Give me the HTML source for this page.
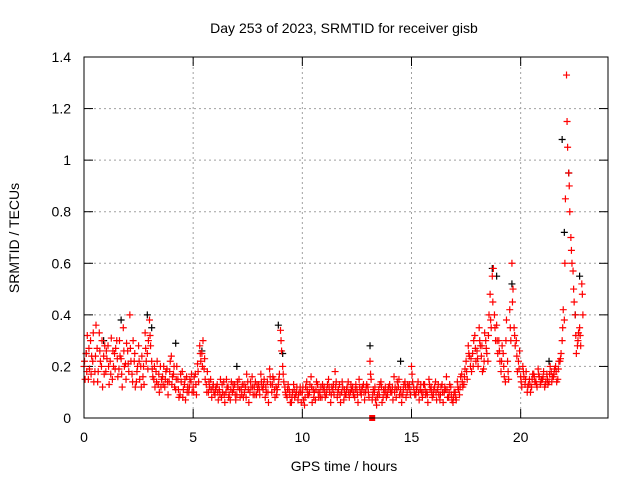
<!DOCTYPE html>
<html><head><meta charset="utf-8"><style>
html,body{margin:0;padding:0;background:#fff;}
svg{display:block;font-family:"Liberation Sans",sans-serif;}
</style></head><body>
<svg id="chart" width="640" height="480" viewBox="0 0 640 480">
<rect x="0" y="0" width="640" height="480" fill="#fff"/>
<text x="344" y="33" font-size="14" text-anchor="middle">Day 253 of 2023, SRMTID for receiver gisb</text>
<g id="grid"></g>
<g id="ticks"></g>
<g id="marks"></g>
<rect x="84" y="57" width="524" height="361" fill="none" stroke="#000" stroke-width="1"/>
<text x="344" y="471" font-size="14" text-anchor="middle">GPS time / hours</text>
<text transform="translate(19,238) rotate(-90)" font-size="14" text-anchor="middle">SRMTID / TECUs</text>
</svg>
<script>
const xTicks=[0,5,10,15,20];
const yTicks=[0,0.2,0.4,0.6,0.8,1,1.2,1.4];
const yTickLabels=["0","0.2","0.4","0.6","0.8","1","1.2","1.4"];
const tStart=0, tStep=0.1;
const valsA=[.20,.25,.15,.30,.22,.18,.27,.33,.20,.24,
.18,.28,.22,.15,.25,.30,.19,.23,.35,.21,
.26,.40,.17,.22,.14,.28,.20,.16,.33,.25,
.38,.22,.15,.18,.13,.20,.16,.12,.19,.14,
.24,.17,.11,.15,.09,.18,.13,.16,.10,.14,
.12,.17,.21,.28,.25,.19,.13,.10,.15,.12,
.09,.13,.11,.08,.14,.10,.12,.07,.10,.13,
.09,.15,.11,.08,.12,.14,.10,.16,.12,.09,
.13,.17,.11,.08,.14,.19,.10,.15,.12,.13,
.34,.20,.12,.08,.11,.06,.13,.09,.07,.12,
.10,.05,.14,.09,.16,.11,.07,.13,.10,.08,
.12,.09,.15,.06,.11,.18,.08,.13,.10,.07,
.09,.14,.10,.12,.08,.11,.15,.09,.13,.10,
.12,.22,.07,.10,.05,.11,.14,.08,.12,.09,
.13,.10,.16,.08,.12,.11,.09,.14,.10,.13,
.20,.12,.09,.14,.11,.08,.13,.10,.15,.12,
.09,.14,.11,.07,.13,.10,.16,.08,.12,.06,
.10,.14,.09,.17,.13,.22,.28,.20,.25,.32,
.26,.35,.24,.19,.30,.22,.48,.55,.40,.36,
.30,.18,.25,.14,.22,.42,.60,.35,.30,.22,
.16,.20,.13,.10,.15,.12,.17,.14,.19,.13,
.15,.12,.17,.14,.18,.16,.20,.15,.22,.30,
.38,1.33,.95,.70,.57,.40,.28,.35,.52];
const valsB=[.15,.32,.19,.24,.14,.36,.18,.22,.12,.28,
.23,.13,.31,.20,.27,.16,.24,.12,.20,.29,
.18,.22,.30,.12,.20,.15,.24,.13,.22,.30,
.28,.16,.12,.22,.10,.15,.20,.18,.09,.22,
.16,.12,.20,.08,.14,.11,.07,.12,.15,.10,
.16,.09,.14,.22,.30,.15,.18,.12,.08,.10,
.12,.07,.15,.10,.06,.12,.09,.14,.11,.07,
.12,.08,.13,.10,.17,.06,.12,.09,.14,.11,
.09,.12,.15,.10,.06,.13,.16,.08,.11,.17,
.26,.14,.09,.13,.06,.10,.08,.12,.10,.06,
.07,.12,.09,.13,.06,.10,.14,.08,.12,.11,
.08,.13,.10,.12,.09,.14,.11,.06,.12,.09,
.12,.08,.11,.09,.13,.06,.10,.12,.07,.13,
.08,.15,.11,.07,.09,.13,.06,.10,.08,.12,
.10,.07,.12,.14,.09,.06,.13,.08,.12,.09,
.14,.09,.12,.07,.10,.13,.09,.06,.11,.08,
.12,.07,.09,.12,.06,.11,.08,.13,.07,.10,
.07,.11,.16,.12,.19,.15,.24,.18,.30,.22,
.20,.28,.18,.33,.25,.40,.35,.58,.30,.25,
.22,.28,.16,.38,.15,.30,.50,.28,.18,.26,
.12,.16,.18,.13,.10,.17,.14,.12,.16,.15,
.18,.14,.13,.20,.16,.19,.14,.22,.25,.42,
.85,1.05,.80,.60,.45,.25,.33,.28,.40];
const valsC=[.22,.18,.27,.17,.33,.24,.14,.26,.30,.17,
.26,.20,.17,.26,.19,.23,.30,.17,.26,.15,
.21,.27,.14,.25,.18,.22,.12,.20,.27,.19,
.32,.19,.20,.14,.17,.12,.13,.15,.14,.18,
.13,.20,.15,.11,.17,.08,.15,.10,.12,.17,
.10,.13,.18,.25,.20,.23,.10,.14,.11,.13,
.11,.10,.09,.13,.09,.15,.08,.11,.13,.09,
.14,.11,.09,.13,.08,.11,.14,.12,.09,.13,
.11,.14,.13,.12,.10,.16,.13,.11,.09,.15,
.30,.17,.10,.11,.09,.08,.11,.10,.09,.10,
.12,.08,.11,.10,.12,.08,.11,.10,.08,.13,
.10,.11,.12,.09,.13,.12,.10,.09,.14,.11,
.11,.10,.13,.10,.11,.09,.12,.11,.10,.12,
.10,.17,.09,.12,.08,.09,.12,.11,.10,.11,
.11,.12,.10,.11,.15,.09,.11,.12,.13,.11,
.17,.10,.11,.10,.13,.10,.11,.09,.13,.10,
.11,.10,.13,.09,.10,.12,.11,.10,.09,.08,
.08,.12,.12,.14,.16,.18,.25,.23,.20,.27,
.23,.30,.28,.22,.27,.32,.38,.45,.35,.30,
.26,.22,.20,.30,.18,.35,.45,.32,.24,.19,
.14,.18,.15,.12,.13,.15,.16,.13,.17,.14,
.16,.13,.15,.17,.14,.17,.18,.19,.23,.35,
.60,1.15,.90,.65,.50,.32,.30,.32,.48];
const blackT=[0.1,0.9,1.7,2.9,3.1,4.2,5.4,7.0,8.9,9.1,13.1,14.5,18.7,18.9,19.6,21.3,21.9,22.0,22.2,22.5,22.7];
const blackV=[0.25,0.30,0.38,0.40,0.35,0.29,0.26,0.20,0.36,0.25,0.28,0.22,0.58,0.55,0.52,0.22,1.08,0.72,0.95,0.40,0.55];
const squareT=[13.2];
const squareV=[0.0];

const X=t=>84+t*(524/24);
const Y=v=>418-v*(361/1.4);
const NS="http://www.w3.org/2000/svg";
const grid=document.getElementById('grid');
const ticks=document.getElementById('ticks');
const marks=document.getElementById('marks');
function mk(tag,attrs,parent){const e=document.createElementNS(NS,tag);for(const k in attrs)e.setAttribute(k,attrs[k]);parent.appendChild(e);return e;}
xTicks.forEach(t=>{
  const x=X(t);
  if(t>0){const g=mk('line',{x1:x,y1:57,x2:x,y2:418,stroke:'#a0a0a0','stroke-dasharray':'2,3'},grid);
  
  }
  mk('line',{x1:x,y1:418,x2:x,y2:409,stroke:'#000'},ticks);
  mk('line',{x1:x,y1:57,x2:x,y2:66,stroke:'#000'},ticks);
  const l=mk('text',{x:x,y:442,'font-size':14,'text-anchor':'middle'},ticks);
  l.textContent=String(t);
  
  
});
yTicks.forEach((v,i)=>{
  const y=Y(v);
  if(v>0&&v<1.4){const g=mk('line',{x1:84,y1:y,x2:608,y2:y,stroke:'#a0a0a0','stroke-dasharray':'2,3'},grid);
  
  }
  mk('line',{x1:84,y1:y,x2:93,y2:y,stroke:'#000'},ticks);
  mk('line',{x1:608,y1:y,x2:599,y2:y,stroke:'#000'},ticks);
  const l=mk('text',{x:71,y:y+5,'font-size':14,'text-anchor':'end'},ticks);
  l.textContent=yTickLabels[i];
  
  
});
function plus(t,v,color,name){
  const x=X(t),y=Y(v);
  const p=mk('path',{d:`M${x-3.5},${y}H${x+3.5}M${x},${y-3.5}V${y+3.5}`,stroke:color,'stroke-width':1.2,fill:'none'},marks);
  
  
}
blackT.forEach((t,i)=>plus(t,blackV[i],'#000','black-point'));
valsA.forEach((v,i)=>plus(tStart+i*tStep,v,'#ff0000','red-point'));
valsB.forEach((v,i)=>plus(tStart+i*tStep+0.05,v,'#ff0000','red-point'));
valsC.forEach((v,i)=>plus(tStart+i*tStep+0.025,v,'#ff0000','red-point'));
squareT.forEach((t,i)=>{
  const s=mk('rect',{x:X(t)-3,y:Y(squareV[i])-3,width:6,height:6,fill:'#ff0000'},marks);
  
  
});
</script>
</body></html>
